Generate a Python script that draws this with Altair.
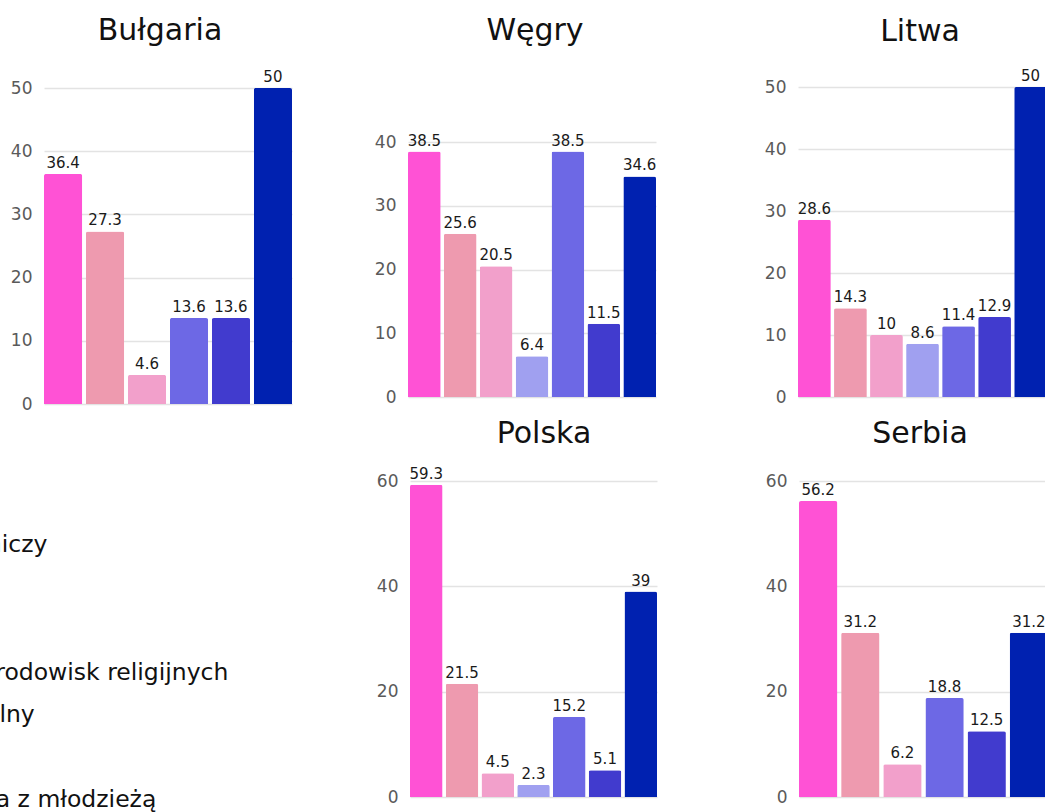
import altair as alt
import pandas as pd

FONT = "DejaVu Sans"

countries = ["Bułgaria", "Węgry", "Litwa", "Polska", "Serbia"]
categories = [
    "Górniczy",
    "Dom",
    "Klub",
    "Ze środowisk religijnych",
    "Szkolny",
    "Inny",
    "Praca z młodzieżą",
]
colors = ["#FF52D5", "#EE9AAF", "#F2A0CB", "#A0A0F0", "#6D68E5", "#413BCE", "#0021B0"]

# percentage per category (None = category not reported for that country)
bulgaria = [36.4, 27.3, 4.6, None, 13.6, 13.6, 50]
wegry = [38.5, 25.6, 20.5, 6.4, 38.5, 11.5, 34.6]
litwa = [28.6, 14.3, 10, 8.6, 11.4, 12.9, 50]
polska = [59.3, 21.5, 4.5, 2.3, 15.2, 5.1, 39]
serbia = [56.2, 31.2, 6.2, None, 18.8, 12.5, 31.2]

ticks_bulgaria = [0, 10, 20, 30, 40, 50]
ticks_wegry = [0, 10, 20, 30, 40]
ticks_litwa = [0, 10, 20, 30, 40, 50]
ticks_polska = [0, 20, 40, 60]
ticks_serbia = [0, 20, 40, 60]

series = dict(zip(countries, [bulgaria, wegry, litwa, polska, serbia]))
ticks = dict(zip(countries, [ticks_bulgaria, ticks_wegry, ticks_litwa, ticks_polska, ticks_serbia]))

# page placement of each panel: plot x-extent, y pixel of zero and of the top tick, title anchor
placement = {
    "Bułgaria": dict(x=(44, 292), y=(404, 88), title=(160, 40)),
    "Węgry": dict(x=(408, 656), y=(397, 142), title=(535, 40)),
    "Litwa": dict(x=(798, 1047), y=(397, 87), title=(920, 41)),
    "Polska": dict(x=(410, 657), y=(797, 481), title=(544, 443)),
    "Serbia": dict(x=(799, 1048), y=(797, 481), title=(920, 443)),
}

color_scale = alt.Scale(domain=categories, range=colors)


def panel(name):
    df = pd.DataFrame({"kategoria": categories, "wartosc": series[name]}).dropna()
    present = list(df["kategoria"])
    p = placement[name]
    tv = ticks[name]
    x = alt.X(
        "kategoria:N",
        sort=present,
        scale=alt.Scale(domain=present, range=list(p["x"]), paddingInner=0.09, paddingOuter=0),
        axis=None,
    )
    y = alt.Y(
        "wartosc:Q",
        scale=alt.Scale(domain=[0, tv[-1]], range=list(p["y"]), nice=False, zero=True),
        axis=alt.Axis(
            orient="left",
            offset=-p["x"][0],
            values=tv,
            grid=True,
            domain=False,
            ticks=False,
            labelPadding=12,
            labelFont=FONT,
            labelFontSize=17,
            labelColor="#5a5a5a",
            gridColor="#E3E3E3",
            gridWidth=1.5,
            title=None,
        ),
    )
    base = alt.Chart(df).encode(x=x, y=y)
    bars = base.mark_bar(cornerRadiusTopLeft=2, cornerRadiusTopRight=2).encode(
        color=alt.Color("kategoria:N", scale=color_scale, legend=None)
    )
    labels = base.mark_text(
        dy=-6, baseline="alphabetic", font=FONT, fontSize=15, color="#1a1a1a"
    ).encode(text=alt.Text("wartosc:Q"))
    title = alt.Chart(pd.DataFrame({"kraj": [name]})).mark_text(
        align="center", baseline="alphabetic", font=FONT, fontSize=30, color="#111111"
    ).encode(text="kraj:N", x=alt.value(p["title"][0]), y=alt.value(p["title"][1]))
    return alt.layer(bars, labels, title)


# category legend, running off the left edge of the page
legend = alt.Chart(pd.DataFrame({"kategoria": categories})).mark_text(
    align="left", baseline="middle", font=FONT, fontSize=23.5, color="#111111", clip=True
).encode(
    x=alt.value(-55),
    y=alt.Y(
        "kategoria:N",
        sort=categories,
        scale=alt.Scale(type="point", domain=categories, range=[545, 800], padding=0),
        axis=None,
    ),
    text="kategoria:N",
)

chart = (
    alt.layer(*[panel(c) for c in countries], legend)
    .resolve_scale(x="independent", y="independent")
    .properties(width=1045, height=812, autosize=alt.AutoSizeParams(type="none"), padding=0)
    .configure_view(strokeWidth=0)
)

chart.save("out.html", embed_options={"renderer": "svg", "actions": False})
